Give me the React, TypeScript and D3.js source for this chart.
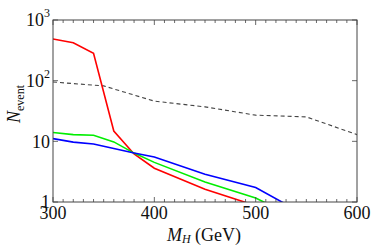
import React from 'react';
import * as d3 from 'd3';

// masses (GeV) where the signal curves are sampled
const massPoints = [300, 320, 340, 360, 380, 400, 450, 500, 550];
const redEvents = [486, 422, 282, 14.8, 6.2, 3.6, 1.62, 0.87, 0.3];
const greenEvents = [14.0, 12.9, 12.6, 9.8, 6.4, 4.5, 2.14, 1.16, 0.46];
const blueEvents = [11.1, 9.7, 9.06, 7.6, 6.4, 5.5, 2.87, 1.73, 0.6];

// background (dashed)
const bgMass = [300, 350, 400, 450, 500, 550, 600];
const bgEvents = [95, 82, 46, 37, 27, 25.3, 12.9];

const xTicks = [300, 400, 500, 600];
const yTicks = [1, 10, 100, 1000];
const yTickLabels = [
  { base: '1', exp: '' },
  { base: '10', exp: '' },
  { base: '10', exp: '2' },
  { base: '10', exp: '3' },
];

const W = 371;
const H = 246;
const m = { left: 53, right: 14, top: 20, bottom: 44 };

export default function App() {
  const x = d3.scaleLinear().domain([300, 600]).range([m.left, W - m.right]);
  const y = d3.scaleLog().domain([1, 1000]).range([H - m.bottom, m.top]);

  const line = d3
    .line<[number, number]>()
    .x(d => x(d[0]))
    .y(d => y(d[1]));

  const series = [
    { vals: redEvents, color: '#ff0000' },
    { vals: greenEvents, color: '#00ee00' },
    { vals: blueEvents, color: '#0000ff' },
  ];

  const minor = d3.range(300, 601, 10);
  const font = '"Liberation Serif", "DejaVu Serif", serif';
  const frame = '#444';

  return (
    <svg
      width={W}
      height={H}
      style={{ position: 'absolute', left: 0, top: 0 }}
      fontFamily={font}
    >
      <defs>
        <clipPath id="plotArea">
          <rect
            x={m.left}
            y={m.top}
            width={W - m.left - m.right}
            height={H - m.top - m.bottom}
          />
        </clipPath>
      </defs>

      <g clipPath="url(#plotArea)" fill="none">
        <path
          d={line(bgMass.map((d, i) => [d, bgEvents[i]])) || ''}
          stroke="#444"
          strokeWidth={1.1}
          strokeDasharray="4,3"
        />
        {series.map((s, k) => (
          <path
            key={k}
            d={line(massPoints.map((d, i) => [d, s.vals[i]])) || ''}
            stroke={s.color}
            strokeWidth={1.6}
          />
        ))}
      </g>

      {/* frame */}
      <rect
        x={m.left}
        y={m.top}
        width={W - m.left - m.right}
        height={H - m.top - m.bottom}
        fill="none"
        stroke={frame}
        strokeWidth={1}
      />

      {/* x ticks, bottom and top */}
      {minor.map(v => {
        const len = v % 100 === 0 ? 5 : 3;
        return (
          <g key={v} stroke={frame} strokeWidth={0.8}>
            <line x1={x(v)} x2={x(v)} y1={H - m.bottom} y2={H - m.bottom - len} />
            <line x1={x(v)} x2={x(v)} y1={m.top} y2={m.top + len} />
          </g>
        );
      })}

      {/* y ticks, left and right */}
      {yTicks.map(v => (
        <g key={v} stroke={frame} strokeWidth={0.8}>
          <line x1={m.left} x2={m.left + 5} y1={y(v)} y2={y(v)} />
          <line x1={W - m.right} x2={W - m.right - 5} y1={y(v)} y2={y(v)} />
        </g>
      ))}

      {xTicks.map(v => (
        <text
          key={v}
          x={x(v)}
          y={219}
          textAnchor="middle"
          fontSize={18}
          fill="#111"
        >
          {v}
        </text>
      ))}

      {yTicks.map((v, i) => (
        <text
          key={v}
          x={m.left - 3}
          y={y(v)}
          dy="0.35em"
          textAnchor="end"
          fontSize={18}
          fill="#111"
        >
          {yTickLabels[i].base}
          {yTickLabels[i].exp && (
            <tspan fontSize={12} dy="-0.75em">
              {yTickLabels[i].exp}
            </tspan>
          )}
        </text>
      ))}

      {/* axis titles */}
      <text x={204} y={241} textAnchor="middle" fontSize={18} fill="#111">
        <tspan fontStyle="italic">M</tspan>
        <tspan fontStyle="italic" fontSize={12} dy="1.5">H</tspan>
        <tspan dy="-1.5"> (GeV)</tspan>
      </text>

      <text
        transform="translate(20,104) rotate(-90)"
        textAnchor="middle"
        fontSize={18}
        fill="#111"
      >
        <tspan fontStyle="italic">N</tspan>
        <tspan fontSize={12} dy="0.3em">event</tspan>
      </text>
    </svg>
  );
}
